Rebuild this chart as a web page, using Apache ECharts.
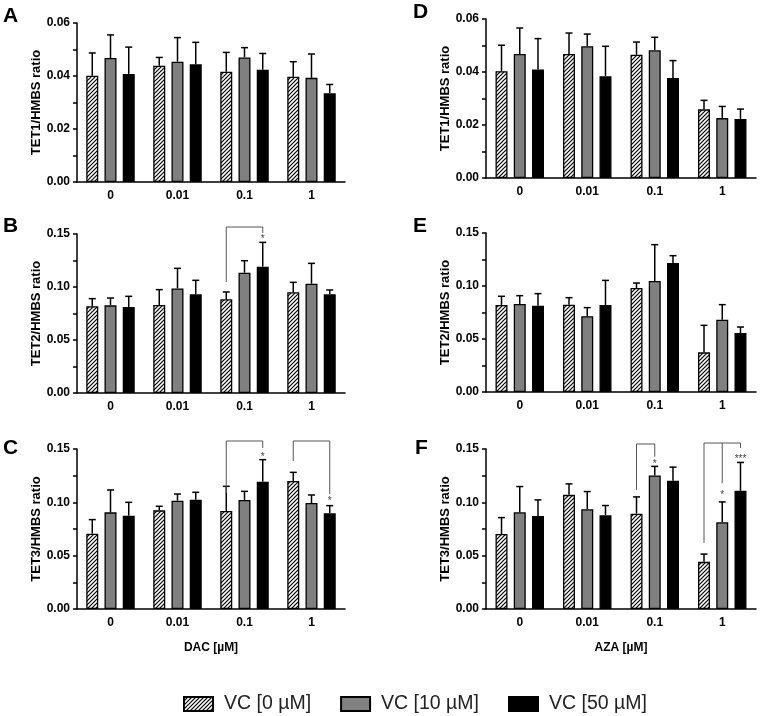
<!DOCTYPE html>
<html><head><meta charset="utf-8">
<script src="https://cdn.jsdelivr.net/npm/echarts@6/dist/echarts.min.js"></script>
<style>html,body{margin:0;padding:0;background:#fff}#c{width:760px;height:716px}</style>
</head><body><div id="c"></div>
<script>
// ---------- data ----------
const categories = ['0', '0.01', '0.1', '1'];
const seriesNames = ['VC [0 µM]', 'VC [10 µM]', 'VC [50 µM]'];
const ticks006 = [0, 0.02, 0.04, 0.06];
const ticks015 = [0, 0.05, 0.10, 0.15];

// A: TET1, DAC
const A_vc0 = [0.0401, 0.0439, 0.0416, 0.0397];
const A_vc10 = [0.0468, 0.0454, 0.0470, 0.0393];
const A_vc50 = [0.0408, 0.0444, 0.0424, 0.0335];
const A_sd0 = [0.0086, 0.0031, 0.0073, 0.0057];
const A_sd10 = [0.0087, 0.0091, 0.0037, 0.0090];
const A_sd50 = [0.0101, 0.0083, 0.0061, 0.0033];
// B: TET2, DAC
const B_vc0 = [0.0818, 0.0830, 0.0884, 0.0950];
const B_vc10 = [0.0827, 0.0987, 0.1135, 0.1031];
const B_vc50 = [0.0811, 0.0931, 0.1192, 0.0931];
const B_sd0 = [0.0072, 0.0145, 0.0069, 0.0094];
const B_sd10 = [0.0069, 0.0189, 0.0113, 0.0192];
const B_sd50 = [0.0101, 0.0132, 0.0229, 0.0041];
// C: TET3, DAC
const C_vc0 = [0.0706, 0.0925, 0.0919, 0.1200];
const C_vc10 = [0.0906, 0.1016, 0.1022, 0.0994];
const C_vc50 = [0.0875, 0.1025, 0.1194, 0.0897];
const C_sd0 = [0.0132, 0.0038, 0.0231, 0.0081];
const C_sd10 = [0.0210, 0.0062, 0.0081, 0.0075];
const C_sd50 = [0.0125, 0.0069, 0.0206, 0.0072];
// D: TET1, AZA
const D_vc0 = [0.0403, 0.0468, 0.0465, 0.0259];
const D_vc10 = [0.0468, 0.0497, 0.0482, 0.0226];
const D_vc50 = [0.0409, 0.0384, 0.0377, 0.0223];
const D_sd0 = [0.0098, 0.0079, 0.0048, 0.0034];
const D_sd10 = [0.0098, 0.0046, 0.0049, 0.0044];
const D_sd50 = [0.0117, 0.0113, 0.0066, 0.0037];
// E: TET2, AZA
const E_vc0 = [0.0821, 0.0824, 0.0981, 0.0374];
const E_vc10 = [0.0830, 0.0714, 0.1047, 0.0682];
const E_vc50 = [0.0814, 0.0821, 0.1217, 0.0557];
const E_sd0 = [0.0082, 0.0066, 0.0047, 0.0255];
const E_sd10 = [0.0079, 0.0082, 0.0343, 0.0142];
const E_sd50 = [0.0114, 0.0232, 0.0069, 0.0056];
// F: TET3, AZA
const F_vc0 = [0.0703, 0.1070, 0.0894, 0.0442];
const F_vc10 = [0.0907, 0.0935, 0.1252, 0.0813];
const F_vc50 = [0.0872, 0.0879, 0.1202, 0.1108];
const F_sd0 = [0.0154, 0.0103, 0.0157, 0.0073];
const F_sd10 = [0.0241, 0.0166, 0.0085, 0.0191];
const F_sd50 = [0.0151, 0.0091, 0.0128, 0.0266];

// significance brackets: category, top value, legs [seriesIndex, leg end value]
const B_brackets = [{cat: 2, top: 0.1566, legs: [[0, 0.1047], [2, 0.151]]}];
const C_brackets = [
  {cat: 2, top: 0.1575, legs: [[0, 0.1088], [2, 0.151]]},
  {cat: 3, top: 0.1575, legs: [[0, 0.1388], [2, 0.1078]]}
];
const F_brackets = [
  {cat: 2, top: 0.1547, legs: [[0, 0.1116], [1, 0.1428]]},
  {cat: 3, top: 0.1556, legs: [[0, 0.0619], [1, 0.118], [2, 0.151]]}
];
// stars: [category, seriesIndex, value, text]
const B_stars = [[2, 2, 0.1472, '*']];
const C_stars = [[2, 2, 0.1444, '*'], [3, 2, 0.1031, '*']];
const F_stars = [[2, 1, 0.1378, '*'], [3, 1, 0.1088, '*'], [3, 2, 0.1425, '***']];

// ---------- styling / layout ----------
const FONT = "'Liberation Sans', Arial, sans-serif";
const BAR_W = 12, BAR_GAP = 0.52;
const PITCH = BAR_W * (1 + BAR_GAP);

function hatch() {
  const s = 4, cv = document.createElement('canvas');
  cv.width = s; cv.height = s;
  const g = cv.getContext('2d');
  g.fillStyle = '#fff'; g.fillRect(0, 0, s, s);
  g.strokeStyle = '#000'; g.lineWidth = 1.2;
  g.beginPath();
  g.moveTo(0, s); g.lineTo(s, 0);
  g.moveTo(-1, 1); g.lineTo(1, -1);
  g.moveTo(s - 1, s + 1); g.lineTo(s + 1, s - 1);
  g.stroke();
  return {image: cv, repeat: 'repeat'};
}
const fills = [hatch(), '#808080', '#000000'];

const panels = [
  {L: 'A', grid: {left: 77, top: 23, width: 268, height: 159}, yName: 'TET1/HMBS ratio', ticks: ticks006,
   means: [A_vc0, A_vc10, A_vc50], sds: [A_sd0, A_sd10, A_sd50], br: [], st: [], xName: '', lx: 3, ly: 6},
  {L: 'B', grid: {left: 77, top: 234, width: 268, height: 159}, yName: 'TET2/HMBS ratio', ticks: ticks015,
   means: [B_vc0, B_vc10, B_vc50], sds: [B_sd0, B_sd10, B_sd50], br: B_brackets, st: B_stars, xName: '', lx: 3, ly: 216},
  {L: 'C', grid: {left: 77, top: 449, width: 268, height: 160}, yName: 'TET3/HMBS ratio', ticks: ticks015,
   means: [C_vc0, C_vc10, C_vc50], sds: [C_sd0, C_sd10, C_sd50], br: C_brackets, st: C_stars, xName: 'DAC [µM]', lx: 3, ly: 438},
  {L: 'D', grid: {left: 486, top: 19, width: 270, height: 159}, yName: 'TET1/HMBS ratio', ticks: ticks006,
   means: [D_vc0, D_vc10, D_vc50], sds: [D_sd0, D_sd10, D_sd50], br: [], st: [], xName: '', lx: 413, ly: 2},
  {L: 'E', grid: {left: 486, top: 233, width: 270, height: 159}, yName: 'TET2/HMBS ratio', ticks: ticks015,
   means: [E_vc0, E_vc10, E_vc50], sds: [E_sd0, E_sd10, E_sd50], br: [], st: [], xName: '', lx: 413, ly: 216},
  {L: 'F', grid: {left: 486, top: 449, width: 270, height: 160}, yName: 'TET3/HMBS ratio', ticks: ticks015,
   means: [F_vc0, F_vc10, F_vc50], sds: [F_sd0, F_sd10, F_sd50], br: F_brackets, st: F_stars, xName: 'AZA [µM]', lx: 415, ly: 438}
];

const grids = [], xAxes = [], yAxes = [], series = [], graphics = [];
panels.forEach((p, i) => {
  grids.push(p.grid);
  xAxes.push({
    type: 'category', gridIndex: i, data: categories,
    axisLine: {lineStyle: {color: '#000', width: 1.5}},
    axisTick: {show: false},
    axisLabel: {color: '#000', fontWeight: 'bold', fontSize: 12, fontFamily: FONT, margin: 8},
    name: p.xName, nameLocation: 'middle', nameGap: 33,
    nameTextStyle: {color: '#000', fontWeight: 'bold', fontSize: 12, fontFamily: FONT}
  });
  const t = p.ticks;
  yAxes.push({
    type: 'value', gridIndex: i, min: t[0], max: t[t.length - 1], interval: t[1] - t[0],
    axisLine: {show: true, lineStyle: {color: '#000', width: 1.5}},
    axisTick: {show: true, length: 4, lineStyle: {color: '#000', width: 1.5}},
    minorTick: {show: true, splitNumber: 2, length: 4, lineStyle: {color: '#000', width: 1.5}},
    splitLine: {show: false},
    axisLabel: {color: '#000', fontWeight: 'bold', fontSize: 12, fontFamily: FONT, margin: 7,
      formatter: v => v.toFixed(2)},
    name: p.yName, nameLocation: 'middle', nameGap: 33, nameRotate: 90,
    nameTextStyle: {color: '#000', fontWeight: 'bold', fontSize: 13, fontFamily: FONT}
  });
  for (let s = 0; s < 3; s++) {
    series.push({
      type: 'bar', name: seriesNames[s], xAxisIndex: i, yAxisIndex: i,
      data: p.means[s], barWidth: BAR_W, barGap: (BAR_GAP * 100) + '%',
      itemStyle: {color: fills[s], borderColor: '#000', borderWidth: 1.3},
      emphasis: {disabled: true}
    });
  }
  // error bars
  const errData = [];
  for (let s = 0; s < 3; s++) {
    p.means[s].forEach((m, c) => errData.push([c, m, m + p.sds[s][c], s]));
  }
  series.push({
    type: 'custom', name: 'err' + i, xAxisIndex: i, yAxisIndex: i, z: 5,
    data: errData,
    renderItem: (params, api) => {
      const c = api.value(0), m = api.value(1), u = api.value(2), s = api.value(3);
      const p0 = api.coord([c, m]), p1 = api.coord([c, u]);
      const x = p0[0] + (s - 1) * PITCH;
      return {type: 'group', children: [
        {type: 'line', shape: {x1: x, y1: p0[1], x2: x, y2: p1[1]}, style: {stroke: '#000', lineWidth: 1.5}},
        {type: 'line', shape: {x1: x - 3.5, y1: p1[1], x2: x + 3.5, y2: p1[1]}, style: {stroke: '#000', lineWidth: 1.5}}
      ]};
    }
  });
  if (p.br.length) {
    const brs = p.br;
    series.push({
      type: 'custom', name: 'br' + i, xAxisIndex: i, yAxisIndex: i, z: 6, clip: false,
      data: brs.map(b => [b.cat, b.top]),
      renderItem: (params, api) => {
        const b = brs[params.dataIndex];
        const top = api.coord([b.cat, b.top]);
        const xs = b.legs.map(l => top[0] + (l[0] - 1) * PITCH);
        const children = [{type: 'line', shape: {x1: xs[0], y1: top[1], x2: xs[xs.length - 1], y2: top[1]},
          style: {stroke: '#555', lineWidth: 1}}];
        b.legs.forEach((l, k) => {
          const yEnd = api.coord([b.cat, l[1]])[1];
          children.push({type: 'line', shape: {x1: xs[k], y1: top[1], x2: xs[k], y2: yEnd},
            style: {stroke: '#555', lineWidth: 1}});
        });
        return {type: 'group', children};
      }
    });
    const sts = p.st;
    series.push({
      type: 'custom', name: 'st' + i, xAxisIndex: i, yAxisIndex: i, z: 6, clip: false,
      data: sts.map(s => [s[0], s[2], s[1]]),
      renderItem: (params, api) => {
        const pt = api.coord([api.value(0), api.value(1)]);
        const x = pt[0] + (api.value(2) - 1) * PITCH;
        return {type: 'text', x: x, y: pt[1] + 2,
          style: {text: sts[params.dataIndex][3], fill: '#444', font: '10px ' + FONT,
            align: 'center', verticalAlign: 'middle'}};
      }
    });
  }
  graphics.push({type: 'text', left: p.lx, top: p.ly,
    style: {text: p.L, fill: '#000', font: 'bold 21px ' + FONT}});
});

const chart = echarts.init(document.getElementById('c'), null, {renderer: 'canvas'});
chart.setOption({
  animation: false,
  backgroundColor: '#fff',
  grid: grids, xAxis: xAxes, yAxis: yAxes, series: series,
  graphic: graphics,
  legend: {
    data: seriesNames, left: 183, top: 694, icon: 'rect', padding: 0,
    itemWidth: 29, itemHeight: 14, itemGap: 29,
    selectedMode: false,
    textStyle: {fontSize: 19.5, fontFamily: FONT, color: '#222', padding: [0, 0, 0, 6]}
  }
});
</script></body></html>
